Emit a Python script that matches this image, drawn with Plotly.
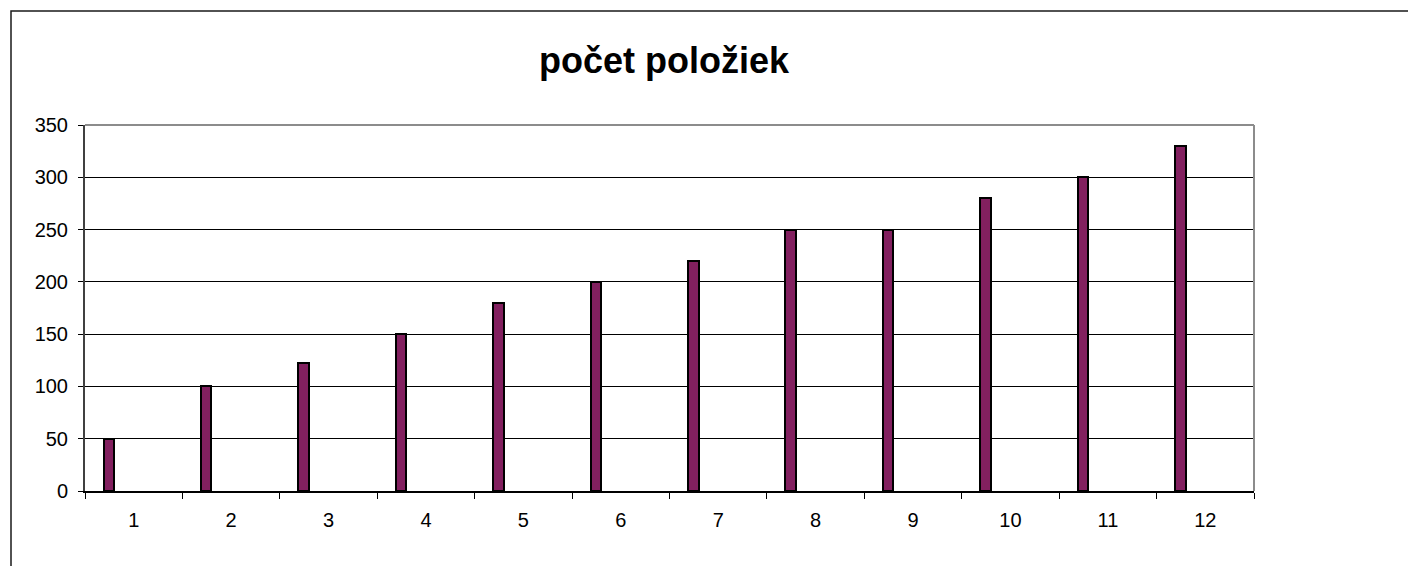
import plotly.graph_objects as go

categories = ["1", "2", "3", "4", "5", "6", "7", "8", "9", "10", "11", "12"]
values = [50, 100, 122, 150, 180, 200, 220, 250, 250, 280, 300, 330]
y_ticks = [0, 50, 100, 150, 200, 250, 300, 350]
title_text = "počet položiek"

# page body has an 8px default margin
OFF = 8
W, H = 1416 - OFF, 566 - OFF
L, R, T, B = 85 - OFF, 1254 - OFF, 125 - OFF, 491 - OFF

fig = go.Figure()
fig.add_trace(go.Bar(
    x=categories, y=values,
    width=0.108, offset=-0.31,
    marker=dict(color="#82205F", line=dict(color="#000000", width=2)),
    showlegend=False,
))

fig.update_layout(
    width=W, height=H,
    margin=dict(l=L, r=W - R, t=T, b=H - B, pad=0),
    paper_bgcolor="white", plot_bgcolor="white",
    font=dict(family="Liberation Sans, Arial, sans-serif", color="#000000", size=20),
    title=dict(text="<b>" + title_text + "</b>", x=(664 - OFF) / W, xanchor="center",
               y=1 - (60 - OFF) / H, yanchor="middle",
               font=dict(size=36, family="Liberation Sans, Arial, sans-serif", color="#000000")),
    bargap=0,
)

fig.update_xaxes(
    type="category", range=[-0.5, 11.5],
    showline=True, linecolor="#000000", linewidth=1.5,
    ticks="outside", tickson="boundaries", ticklen=6, tickcolor="#000000", tickwidth=1,
    showgrid=False, ticklabelstandoff=10,
    tickfont=dict(size=20),
)
fig.update_yaxes(
    range=[0, 350], tickvals=y_ticks,
    showline=True, linecolor="#404040", linewidth=2,
    ticks="outside", ticklen=5, tickcolor="#000000", tickwidth=1,
    showgrid=True, gridcolor="#000000", gridwidth=1,
    ticklabelstandoff=6, zeroline=False,
    tickfont=dict(size=20),
)

# plot area top/right border (gray)
fig.add_shape(type="line", xref="paper", yref="paper", x0=0, x1=1, y0=1, y1=1,
              line=dict(color="#8C8C8C", width=2), layer="above")
fig.add_shape(type="line", xref="paper", yref="paper", x0=1, x1=1, y0=0, y1=1,
              line=dict(color="#8C8C8C", width=2), layer="above")

# outer chart area border (extends past the image edges)
px = lambda p: (p - OFF - L) / (R - L)
py = lambda p: (B - (p - OFF)) / (B - T)
fig.add_shape(type="rect", xref="paper", yref="paper",
              x0=px(11), x1=px(1440), y0=py(590), y1=py(11),
              line=dict(color="#1A1A1A", width=1.5), fillcolor="rgba(0,0,0,0)", layer="below")

fig.write_html("out.html")
